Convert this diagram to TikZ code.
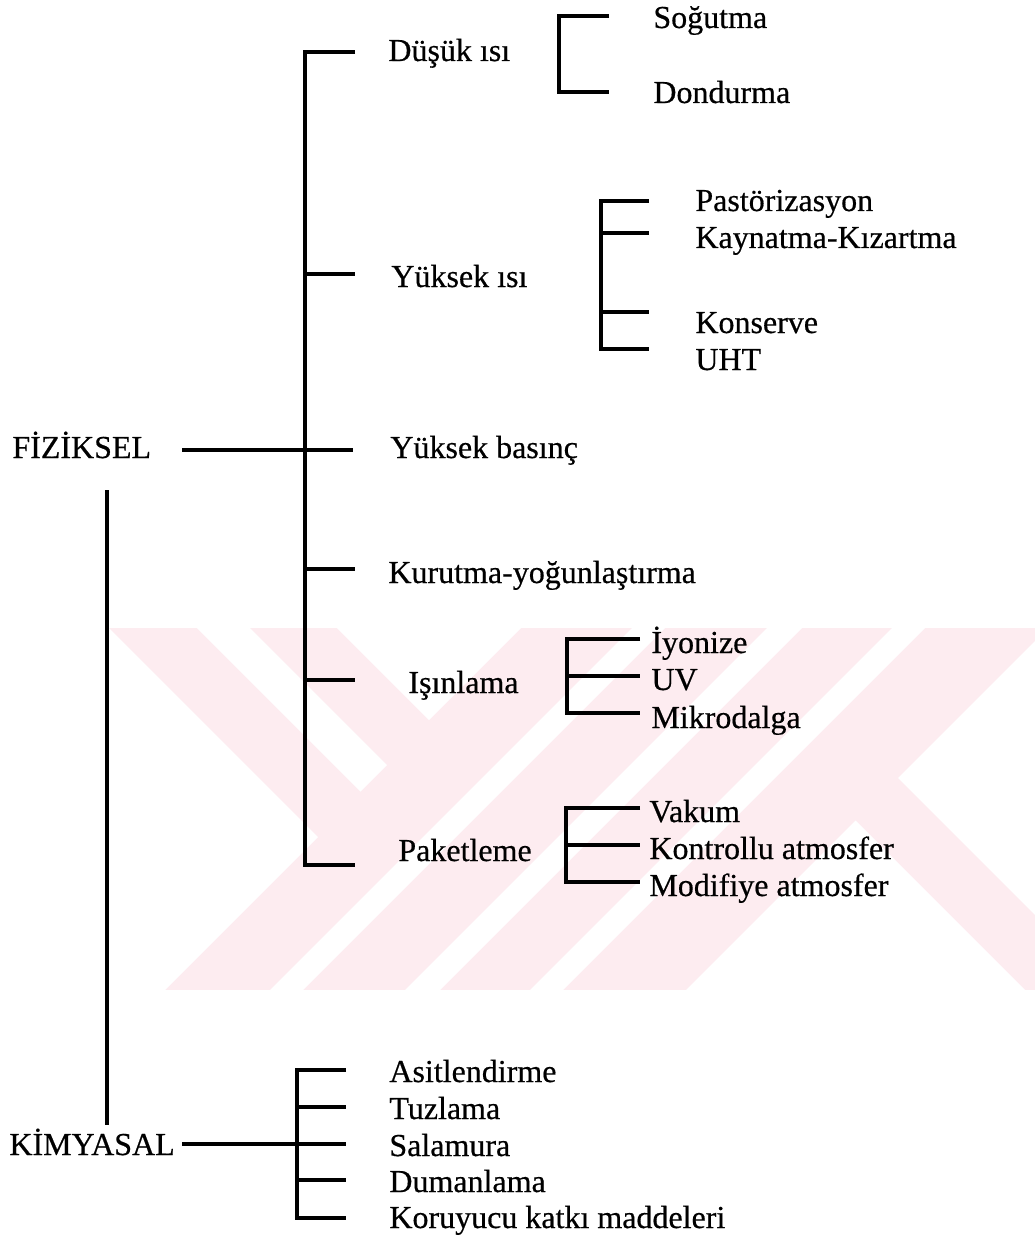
\documentclass[tikz,border=0pt]{standalone}
\usepackage{fontspec}
\setmainfont{Liberation Serif}
\newfontfamily\scanfont[FakeBold=0.5]{Liberation Serif}
\definecolor{wmpink}{RGB}{253,236,240}
\begin{document}
\begin{tikzpicture}[x=0.5pt,y=-0.5pt,
  lbl/.style={anchor=base west, inner sep=0pt, font=\scanfont\fontsize{16}{19}\selectfont},
  conn/.style={draw=black, line width=1.7pt, line cap=butt, line join=miter}]
\useasboundingbox (0,0) rectangle (1035,1241);
\fill[white] (0,0) rectangle (1035,1241);
% watermark
\begin{scope}
\clip (0,628) rectangle (1035,990);
\fill[wmpink] (0,628) rectangle (1035,990);
\fill[white] (318,837) -- (-100,419) -- (-100,1255) -- cycle;
\fill[white] (169,600) -- (222,600) -- (387,765) -- (360.5,791.5) -- cycle;
\fill[white] (309,600) -- (549,600) -- (429,720) -- cycle;
\fill[white] (660,600) -- (693,600) -- (293,1000) -- (260,1000) -- cycle;
\fill[white] (795,600) -- (830,600) -- (430,1000) -- (395,1000) -- cycle;
\fill[white] (920,600) -- (953,600) -- (553,1000) -- (520,1000) -- cycle;
\fill[white] (898,778) -- (1100,576) -- (1100,980) -- cycle;
\fill[white] (855.5,820.5) -- (676,1000) -- (1035,1000) -- cycle;
\end{scope}

% labels
\node[lbl] (fiz) at (12,458) {FİZİKSEL};
\node[lbl] (kim) at (9,1155) {KİMYASAL};
\node[lbl] (dus) at (388,61) {Düşük ısı};
\node[lbl] (yui) at (391,287) {Yüksek ısı};
\node[lbl] (yub) at (390,458) {Yüksek basınç};
\node[lbl] (kur) at (388,583) {Kurutma-yoğunlaştırma};
\node[lbl] (isi) at (408,693) {Işınlama};
\node[lbl] (pak) at (398,861) {Paketleme};
\node[lbl] (sog) at (653,28) {Soğutma};
\node[lbl] (don) at (653,103) {Dondurma};
\node[lbl] (pas) at (695,211) {Pastörizasyon};
\node[lbl] (kay) at (695,248) {Kaynatma-Kızartma};
\node[lbl] (kon) at (695,333) {Konserve};
\node[lbl] (uht) at (695,370) {UHT};
\node[lbl] (iyo) at (651,653) {İyonize};
\node[lbl] (uv)  at (651,690) {UV};
\node[lbl] (mik) at (651,728) {Mikrodalga};
\node[lbl] (vak) at (649,822) {Vakum};
\node[lbl] (kat) at (649,859) {Kontrollu atmosfer};
\node[lbl] (mod) at (649,896) {Modifiye atmosfer};
\node[lbl] (asi) at (389,1082) {Asitlendirme};
\node[lbl] (tuz) at (389,1119) {Tuzlama};
\node[lbl] (sal) at (389,1156) {Salamura};
\node[lbl] (dum) at (389,1192) {Dumanlama};
\node[lbl] (kor) at (389,1228) {Koruyucu katkı maddeleri};

% coordinates of the brackets
\coordinate (mTop) at (305,52);
\coordinate (mBot) at (305,865);
\coordinate (tDus) at (355,52);
\coordinate (mYui) at (305,274);
\coordinate (tYui) at (355,274);
\coordinate (fzA) at (182,450);
\coordinate (tYub) at (353,450);
\coordinate (mKur) at (305,569);
\coordinate (tKur) at (355,569);
\coordinate (mIsi) at (305,680);
\coordinate (tIsi) at (355,680);
\coordinate (tPak) at (355,865);
\coordinate (fzV1) at (107,490);
\coordinate (fzV2) at (107,1125);
\coordinate (kmA) at (182,1144);
\coordinate (kmB) at (297,1144);
\coordinate (kTop) at (297,1070);
\coordinate (kBot) at (297,1218);
\coordinate (kAsi) at (346,1070);
\coordinate (kTuzL) at (297,1107);
\coordinate (kTuz) at (346,1107);
\coordinate (kSal) at (346,1144);
\coordinate (kDumL) at (297,1180);
\coordinate (kDum) at (346,1180);
\coordinate (kKor) at (346,1218);
\coordinate (dTop) at (559,16);
\coordinate (dBot) at (559,92);
\coordinate (dSog) at (609,16);
\coordinate (dDon) at (609,92);
\coordinate (yTop) at (601,201);
\coordinate (yBot) at (601,349);
\coordinate (yPas) at (649,201);
\coordinate (yKayL) at (601,233);
\coordinate (yKay) at (649,233);
\coordinate (yKonL) at (601,312);
\coordinate (yKon) at (649,312);
\coordinate (yUht) at (649,349);
\coordinate (iTop) at (567,639);
\coordinate (iBot) at (567,713);
\coordinate (iIyo) at (640,639);
\coordinate (iUvL) at (567,676);
\coordinate (iUv) at (640,676);
\coordinate (iMik) at (640,713);
\coordinate (pTop) at (566,808);
\coordinate (pBot) at (566,882);
\coordinate (pVak) at (640,808);
\coordinate (pKatL) at (566,845);
\coordinate (pKat) at (640,845);
\coordinate (pMod) at (640,882);

% main physical bracket
\draw[conn] (tDus) -- (mTop) -- (mBot) -- (tPak);
\draw[conn] (mYui) -- (tYui);
\draw[conn] (fzA) -- (tYub);
\draw[conn] (mKur) -- (tKur);
\draw[conn] (mIsi) -- (tIsi);
% physical to chemical
\draw[conn] (fzV1) -- (fzV2);
% chemical bracket
\draw[conn] (kmA) -- (kmB) -- (kSal);
\draw[conn] (kAsi) -- (kTop) -- (kBot) -- (kKor);
\draw[conn] (kTuzL) -- (kTuz);
\draw[conn] (kDumL) -- (kDum);
% sub brackets
\draw[conn] (dSog) -- (dTop) -- (dBot) -- (dDon);
\draw[conn] (yPas) -- (yTop) -- (yBot) -- (yUht);
\draw[conn] (yKayL) -- (yKay);
\draw[conn] (yKonL) -- (yKon);
\draw[conn] (iIyo) -- (iTop) -- (iBot) -- (iMik);
\draw[conn] (iUvL) -- (iUv);
\draw[conn] (pVak) -- (pTop) -- (pBot) -- (pMod);
\draw[conn] (pKatL) -- (pKat);
\end{tikzpicture}
\end{document}
